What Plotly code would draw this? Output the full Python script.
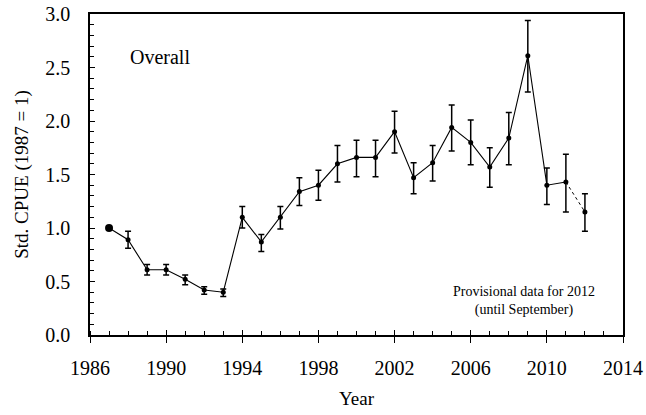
import plotly.graph_objects as go

# Standardised CPUE index by year (1987 = 1)
years = [1987, 1988, 1989, 1990, 1991, 1992, 1993, 1994, 1995, 1996, 1997, 1998, 1999,
         2000, 2001, 2002, 2003, 2004, 2005, 2006, 2007, 2008, 2009, 2010, 2011, 2012]
cpue = [1.00, 0.89, 0.61, 0.61, 0.52, 0.42, 0.40, 1.10, 0.87, 1.10, 1.34, 1.40, 1.60,
        1.66, 1.66, 1.90, 1.47, 1.61, 1.94, 1.80, 1.57, 1.84, 2.61, 1.40, 1.43, 1.15]
upper = [None, 0.97, 0.66, 0.66, 0.56, 0.45, 0.43, 1.20, 0.94, 1.20, 1.47, 1.54, 1.77,
         1.82, 1.82, 2.09, 1.61, 1.77, 2.15, 2.01, 1.75, 2.08, 2.94, 1.56, 1.69, 1.32]
lower = [None, 0.81, 0.56, 0.56, 0.47, 0.38, 0.36, 1.00, 0.78, 0.99, 1.21, 1.26, 1.43,
         1.48, 1.48, 1.70, 1.32, 1.44, 1.72, 1.59, 1.38, 1.59, 2.27, 1.22, 1.15, 0.97]

err_plus = [0 if u is None else round(u - v, 3) for u, v in zip(upper, cpue)]
err_minus = [0 if l is None else round(v - l, 3) for l, v in zip(lower, cpue)]

FONT = "Liberation Serif, Times New Roman, serif"

fig = go.Figure()

# Dotted link to the provisional final year
fig.add_trace(go.Scatter(
    x=years[-2:], y=cpue[-2:], mode="lines",
    line=dict(color="black", width=1, dash="dot"),
    hoverinfo="skip", showlegend=False,
))

# Confirmed years joined by a solid line
fig.add_trace(go.Scatter(
    x=years[:-1], y=cpue[:-1], mode="lines",
    line=dict(color="black", width=1.1),
    showlegend=False,
))

# Points with asymmetric confidence bars
fig.add_trace(go.Scatter(
    x=years[1:], y=cpue[1:], mode="markers",
    marker=dict(color="black", size=5),
    error_y=dict(type="data", symmetric=False,
                 array=err_plus[1:], arrayminus=err_minus[1:],
                 color="black", thickness=1.5, width=3),
    showlegend=False,
))

# Reference year
fig.add_trace(go.Scatter(
    x=years[:1], y=cpue[:1], mode="markers",
    marker=dict(color="black", size=8),
    showlegend=False,
))

# Major x ticks drawn inward as well (overlay axis, no labels)
fig.add_trace(go.Scatter(x=[1986], y=[0], xaxis="x2", mode="markers",
                         marker=dict(opacity=0), hoverinfo="skip", showlegend=False))

fig.update_layout(
    width=646, height=415,
    margin=dict(l=90, r=23, t=14, b=80),
    paper_bgcolor="white", plot_bgcolor="white",
    font=dict(family=FONT, size=20, color="black"),
    xaxis=dict(
        range=[1986, 2014], tick0=1986, dtick=4, automargin=False,
        ticks="outside", ticklen=6, tickwidth=1.2, tickcolor="black",
        minor=dict(dtick=1, tick0=1986, ticks="inside", ticklen=4, tickcolor="black", tickwidth=1),
        showline=True, linecolor="black", linewidth=1.5, mirror=True,
        showgrid=False, zeroline=False,
        ticklabelstandoff=8,
        title=dict(text="Year", font=dict(size=19), standoff=14),
    ),
    xaxis2=dict(
        range=[1986, 2014], tick0=1986, dtick=4, overlaying="x", automargin=False,
        ticks="inside", ticklen=5, tickwidth=1.2, tickcolor="black",
        showticklabels=False, showgrid=False, zeroline=False, showline=False,
    ),
    yaxis=dict(
        range=[0, 3], tick0=0, dtick=0.5, tickformat=".1f", automargin=False,
        ticks="inside", ticklen=5, tickwidth=1.2, tickcolor="black",
        minor=dict(dtick=0.1, ticks="inside", ticklen=4, tickcolor="black", tickwidth=1),
        showline=True, linecolor="black", linewidth=1.5, mirror=True,
        showgrid=False, zeroline=False,
        ticklabelstandoff=14,
        title=dict(text="Std. CPUE (1987 = 1)", font=dict(size=19), standoff=12),
    ),
    annotations=[
        dict(x=1989.7, y=2.6, xref="x", yref="y", text="Overall", showarrow=False,
             font=dict(size=20, family=FONT)),
        dict(x=2008.8, y=0.32, xref="x", yref="y",
             text="Provisional data for 2012<br>(until September)", showarrow=False,
             font=dict(size=14, family=FONT), align="center"),
    ],
)

fig.write_html("out.html")
